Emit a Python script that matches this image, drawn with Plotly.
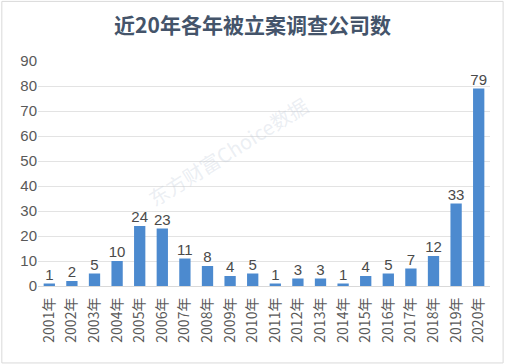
import plotly.graph_objects as go

years = ["2001年", "2002年", "2003年", "2004年", "2005年", "2006年", "2007年", "2008年", "2009年", "2010年",
         "2011年", "2012年", "2013年", "2014年", "2015年", "2016年", "2017年", "2018年", "2019年", "2020年"]
counts = [1, 2, 5, 10, 24, 23, 11, 8, 4, 5, 1, 3, 3, 1, 4, 5, 7, 12, 33, 79]
y_ticks = [0, 10, 20, 30, 40, 50, 60, 70, 80, 90]

fig = go.Figure()
fig.add_trace(go.Bar(
    x=years, y=counts,
    marker=dict(color="#4c8acf", line=dict(width=0)),
    hoverinfo="x+y",
))
fig.add_trace(go.Scatter(
    x=years, y=counts, mode="text",
    text=[str(v) for v in counts], textposition="top center",
    textfont=dict(family="Liberation Sans, DejaVu Sans", size=15, color="#4a4a4a"),
    cliponaxis=False, hoverinfo="skip",
))

fig.update_layout(
    width=505, height=364,
    margin=dict(l=38, r=15, t=61, b=78),
    paper_bgcolor="white", plot_bgcolor="white",
    bargap=0.5,
    showlegend=False,
    title=dict(text="<b>近20年各年被立案调查公司数</b>", x=0.5, xanchor="center", y=0.93, yanchor="middle",
               font=dict(family="Noto Sans CJK SC", size=21, color="#44546a")),
    xaxis=dict(tickangle=-90, automargin=False, range=[-0.5, len(years) - 0.5], ticklabelstandoff=5,
               tickfont=dict(family="Noto Sans CJK SC, Liberation Sans", size=14, color="#595959"),
               showline=True, linecolor="#d9d9d9", ticks="", showgrid=False),
    yaxis=dict(range=[0, 90], tickvals=y_ticks, showgrid=True, gridcolor="#e3e3e3", zeroline=False,
               automargin=False,
               tickfont=dict(family="Liberation Sans, DejaVu Sans", size=15, color="#595959"), ticks=""),
    shapes=[dict(type="rect", xref="paper", yref="paper", x0=-0.08, x1=1.029, y0=-0.342, y1=1.265,
                 line=dict(color="#d9d9d9", width=1))],
    annotations=[dict(text="东方财富Choice数据", x=0.42, y=0.6, xref="paper", yref="paper", showarrow=False,
                      textangle=-32, font=dict(family="Noto Sans CJK SC", size=20, color="rgba(190,200,215,0.3)"))],
)

fig.write_html("out.html", config={"displayModeBar": False},
               post_script="document.body.style.margin='0';document.body.style.overflow='hidden';")
